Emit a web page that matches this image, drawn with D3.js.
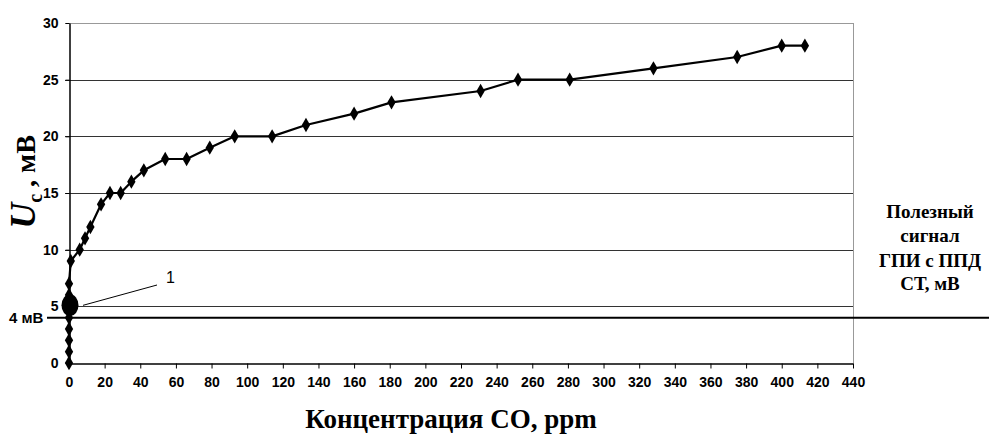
<!DOCTYPE html>
<html>
<head>
<meta charset="utf-8">
<script src="https://cdn.jsdelivr.net/npm/d3@7"></script>
<style>
  body { margin: 0; background: #fff; }
  svg { display: block; }
</style>
</head>
<body>
<svg id="chart" width="989" height="434"></svg>
<script>
// CO concentration, ppm
const concentration = [0, 0, 0, 0, 0, 0, 0, 0, 1, 6, 9, 12, 18, 23, 29, 35, 42, 54, 66, 79, 93, 114, 133, 160, 181, 231, 252, 281, 328, 375, 400, 413];
// signal Uc, mV
const signal = [0, 1, 2, 3, 4, 5, 6, 7, 9, 10, 11, 12, 14, 15, 15, 16, 17, 18, 18, 19, 20, 20, 21, 22, 23, 24, 25, 25, 26, 27, 28, 28];
const xTicks = d3.range(0, 441, 20);
const yTicks = [0, 5, 10, 15, 20, 25, 30];
const threshold = 4;       // 4 мВ level
const markedPoint = [0, 5]; // point "1"

const SANS = '"Liberation Sans", Arial, sans-serif';
const SERIF = '"Liberation Serif", "Times New Roman", "DejaVu Serif", serif';

const svg = d3.select('#chart');

const x = d3.scaleLinear().domain([0, 440]).range([69, 853]);
const y = d3.scaleLinear().domain([0, 30]).range([363, 23]);

// horizontal grid lines
svg.append('g')
    .selectAll('line')
    .data(yTicks.filter(d => d > 0))
    .enter().append('line')
    .attr('x1', x(0) - 4)
    .attr('x2', x(440))
    .attr('y1', d => Math.round(y(d)) + 0.5)
    .attr('y2', d => Math.round(y(d)) + 0.5)
    .attr('stroke', d => d === 30 ? '#999' : '#333')
    .attr('stroke-width', 1);

// right border of plot area
svg.append('line')
    .attr('x1', x(440) + 0.5).attr('x2', x(440) + 0.5)
    .attr('y1', y(30)).attr('y2', y(0))
    .attr('stroke', '#999');

// threshold line 4 мВ
svg.append('line')
    .attr('x1', 47).attr('x2', 989)
    .attr('y1', y(threshold)).attr('y2', y(threshold))
    .attr('stroke', '#000')
    .attr('stroke-width', 2);

function styleTicks(g) {
    g.select('.domain').attr('stroke', '#000').attr('stroke-width', 1.5);
    g.selectAll('.tick line').attr('stroke', '#000');
    g.selectAll('text')
        .attr('font-family', SANS)
        .attr('font-weight', 'bold')
        .attr('font-size', 14)
        .attr('fill', '#000')
        .style('font-stretch', 'condensed');
}

// x axis
const xAxis = svg.append('g')
    .attr('transform', `translate(0,${Math.round(y(0)) + 0.5})`)
    .call(d3.axisBottom(x).tickValues(xTicks).tickSize(5).tickSizeOuter(0).tickPadding(9));
styleTicks(xAxis);

// y axis
const yAxis = svg.append('g')
    .attr('transform', `translate(${Math.round(x(0)) + 0.5},0)`)
    .call(d3.axisLeft(y).tickValues(yTicks).tickSize(4).tickSizeOuter(0).tickPadding(7));
styleTicks(yAxis);

// data line
const line = d3.line()
    .x((d, i) => x(concentration[i]))
    .y(d => y(d));

svg.append('path')
    .datum(signal)
    .attr('d', line)
    .attr('fill', 'none')
    .attr('stroke', '#000')
    .attr('stroke-width', 2.2)
    .attr('stroke-linejoin', 'round');

// diamond markers
const diamond = d3.symbol().type(d3.symbolDiamond).size(60);
svg.selectAll('.pt')
    .data(signal)
    .enter().append('path')
    .attr('class', 'pt')
    .attr('d', diamond)
    .attr('transform', (d, i) => `translate(${x(concentration[i])},${y(d)})`)
    .attr('fill', '#000');

// big marker for point 1
svg.append('ellipse')
    .attr('cx', x(markedPoint[0]) + 1)
    .attr('cy', y(markedPoint[1]) - 1)
    .attr('rx', 8.5)
    .attr('ry', 11)
    .attr('fill', '#000');

// leader for "1"
svg.append('line')
    .attr('x1', x(markedPoint[0]) + 14).attr('y1', y(markedPoint[1]) - 1)
    .attr('x2', 157).attr('y2', 285)
    .attr('stroke', '#000')
    .attr('stroke-width', 1);
svg.append('text')
    .attr('x', 166).attr('y', 283)
    .attr('font-family', SANS)
    .attr('font-size', 16)
    .text('1');

// "4 мВ" label
svg.append('text')
    .attr('x', 9).attr('y', y(threshold) + 5)
    .attr('font-family', SANS)
    .attr('font-weight', 'bold')
    .attr('font-size', 15)
    .text('4 мВ');

// y title
const yTitle = svg.append('text')
    .attr('transform', 'translate(35,182) rotate(-90)')
    .attr('text-anchor', 'middle')
    .attr('font-family', SERIF)
    .attr('font-weight', 'bold');
yTitle.append('tspan').attr('font-style', 'italic').attr('font-size', 36).text('U');
yTitle.append('tspan').attr('font-size', 20).attr('dy', 7).text('c');
yTitle.append('tspan').attr('font-size', 28).attr('dy', -7).text(' , мВ');

// x title
svg.append('text')
    .attr('x', 451).attr('y', 428)
    .attr('text-anchor', 'middle')
    .attr('font-family', SERIF)
    .attr('font-weight', 'bold')
    .attr('font-size', 27)
    .text('Концентрация CO, ppm');

// right side note
const note = ['Полезный', 'сигнал', 'ГПИ с ППД', 'СТ, мВ'];
const noteY = [218, 242, 267, 290];
svg.append('g')
    .selectAll('text')
    .data(note)
    .enter().append('text')
    .attr('x', 930)
    .attr('y', (d, i) => noteY[i])
    .attr('text-anchor', 'middle')
    .attr('font-family', SERIF)
    .attr('font-weight', 'bold')
    .attr('font-size', 19)
    .text(d => d);
</script>
</body>
</html>
